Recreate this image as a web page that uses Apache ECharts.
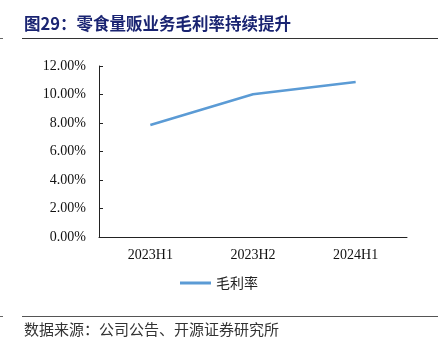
<!DOCTYPE html>
<html><head><meta charset="utf-8">
<script src="https://cdn.jsdelivr.net/npm/echarts@6/dist/echarts.min.js"></script>
<style>html,body{margin:0;padding:0;background:#fff}#c{width:438px;height:352px}</style>
</head><body><div id="c"></div>
<script>
const categories = ['2023H1', '2023H2', '2024H1'];
const grossMargin = [7.86, 10.02, 10.88];
const yTicks = [0, 2, 4, 6, 8, 10, 12];
const seriesName = '毛利率';
const titleText = '图29：零食量贩业务毛利率持续提升';
const sourceText = '数据来源：公司公告、开源证券研究所';

const chart = echarts.init(document.getElementById('c'), null, {renderer: 'canvas'});
chart.setOption({
  animation: false,
  backgroundColor: '#fff',
  graphic: [
    {type: 'text', left: 24, top: 15, style: {text: titleText, font: 'bold 16.5px "Noto Sans CJK SC"', fill: '#1a2472'}},
    {type: 'line', shape: {x1: 22, y1: 38.5, x2: 438, y2: 38.5}, style: {stroke: '#333', lineWidth: 1}},
    {type: 'line', shape: {x1: 0, y1: 38.5, x2: 3, y2: 38.5}, style: {stroke: '#666', lineWidth: 1}},
    {type: 'line', shape: {x1: 22, y1: 316.5, x2: 438, y2: 316.5}, style: {stroke: '#555', lineWidth: 1}},
    {type: 'line', shape: {x1: 0, y1: 316.5, x2: 3, y2: 316.5}, style: {stroke: '#666', lineWidth: 1}},
    {type: 'text', left: 24, top: 322, style: {text: sourceText, font: '15px "Noto Sans CJK SC"', fill: '#333'}}
  ],
  grid: {left: 99, right: 31, top: 66, bottom: 115, containLabel: false},
  legend: {
    data: [seriesName], bottom: 57, left: 'center',
    itemWidth: 31, itemHeight: 3, itemGap: 5,
    icon: 'rect',
    textStyle: {fontFamily: '"Noto Sans CJK SC"', fontSize: 14, color: '#222'}
  },
  xAxis: {
    type: 'category', data: categories, boundaryGap: true,
    axisLine: {lineStyle: {color: '#222', width: 1}},
    axisTick: {inside: true, length: 4, lineStyle: {color: '#222'}},
    axisLabel: {fontFamily: '"Liberation Serif"', fontSize: 14, color: '#111', margin: 11}
  },
  yAxis: {
    type: 'value', min: yTicks[0], max: yTicks[yTicks.length - 1], interval: 2,
    axisLine: {show: true, lineStyle: {color: '#222', width: 1}},
    axisTick: {show: true, inside: true, length: 4, lineStyle: {color: '#222'}},
    splitLine: {show: false},
    axisLabel: {fontFamily: '"Liberation Serif"', fontSize: 14, color: '#111', margin: 13,
      formatter: v => v.toFixed(2) + '%'}
  },
  series: [{
    name: seriesName, type: 'line', data: grossMargin,
    symbol: 'none', lineStyle: {color: '#5B9BD5', width: 2.5}, itemStyle: {color: '#5B9BD5'}
  }]
});
</script></body></html>
